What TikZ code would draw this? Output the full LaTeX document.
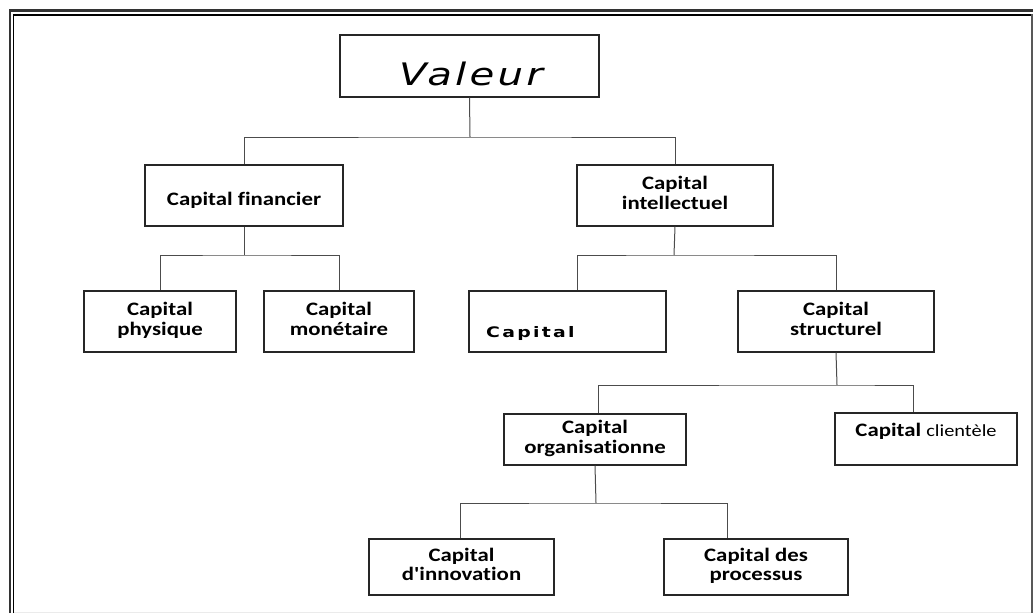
\documentclass[tikz,border=0pt]{standalone}
\usepackage{fontspec}
\setmainfont{Carlito}[Ligatures={NoCommon}]
\newfontfamily\valfont[LetterSpace=8]{DejaVu Sans}
\newfontfamily\capfont[LetterSpace=12]{DejaVu Sans}
\newcommand{\lbl}[1]{\scalebox{1.2}[1]{\begin{tabular}{@{}c@{}}#1\end{tabular}}}
\begin{document}
\begin{tikzpicture}[x=1pt,y=-1pt,
  box/.style={draw=black!85,line width=1.1pt,inner sep=0pt,align=center,
    font=\fontsize{19}{19.5}\selectfont\bfseries},
  conn/.style={draw=black!70,line width=1pt}]
\useasboundingbox (0,0) rectangle (1033,613);
% frame
\draw[line width=2.4pt,black!80] (9.7,613) -- (9.7,10.3) -- (1033,10.3);
\draw[line width=1.4pt,black] (13.5,613) -- (13.5,15) -- (1031,15);
\draw[line width=2.5pt,black!65] (1032,14) -- (1032,613);
\draw[line width=0.6pt,black!8] (14,612.5) -- (1031,612.5);
% nodes
\node[box,minimum width=259pt,minimum height=62pt] (val) at (469.5,66) {};
\node[anchor=base] at (471,85) {\scalebox{1.3}[1]{\valfont\itshape\fontsize{31}{34}\selectfont Valeur}};
\node[box,minimum width=198pt,minimum height=61pt,text height=19pt,text depth=0pt] (fin) at (244,195.5) {\scalebox{1.2}[1]{Capital financier}};
\node[box,minimum width=196pt,minimum height=61pt] (int) at (675,195.5) {\lbl{Capital\\intellectuel}};
\node[box,minimum width=152pt,minimum height=61pt] (phy) at (160,321.5) {\lbl{Capital\\physique}};
\node[box,minimum width=150pt,minimum height=61pt] (mon) at (339,321.5) {\lbl{Capital\\monétaire}};
\node[box,minimum width=197pt,minimum height=61pt] (cap) at (567.5,321.5) {};
\node[anchor=base west,inner sep=0pt] at (486,337) {\scalebox{1.3}[1]{\capfont\bfseries\fontsize{14.5}{16}\selectfont Capital}};
\node[box,minimum width=196pt,minimum height=61pt] (str) at (836,321.5) {\lbl{Capital\\structurel}};
\node[box,minimum width=182pt,minimum height=51pt] (org) at (595,439.5) {\lbl{Capital\\organisationne}};
\node[box,minimum width=182pt,minimum height=52pt,text height=0pt,text depth=6pt] (cli) at (926,439) {\scalebox{1.2}[1]{Capital \mdseries\fontsize{17}{19}\selectfont clientèle}};
\node[box,minimum width=185pt,minimum height=56pt] (inn) at (461.5,567) {\lbl{Capital\\d\textquotesingle innovation}};
\node[box,minimum width=184pt,minimum height=56pt] (pro) at (756,567) {\lbl{Capital des\\processus}};
% junctions
\coordinate (j1) at (470,137);
\coordinate (j2) at (244,255);
\coordinate (j3) at (674,255);
\coordinate (j4) at (837,385);
\coordinate (j5) at (596,503);
% connectors
\draw[conn] (val.south) -- (j1);
\draw[conn] (fin.north) |- (j1) -| (int.north);
\draw[conn] (fin.south) -- (j2);
\draw[conn] (phy.north) |- (j2) -| (mon.north);
\draw[conn] (int.south) -- (j3);
\draw[conn] ([xshift=9.5pt]cap.north) |- (j3) -| (str.north);
\draw[conn] (str.south) -- (j4);
\draw[conn] ([xshift=3pt]org.north) |- (j4) -| ([xshift=-13pt]cli.north);
\draw[conn] (org.south) -- (j5);
\draw[conn] ([xshift=-1.5pt]inn.north) |- (j5) -| ([xshift=-29pt]pro.north);
\end{tikzpicture}
\end{document}
